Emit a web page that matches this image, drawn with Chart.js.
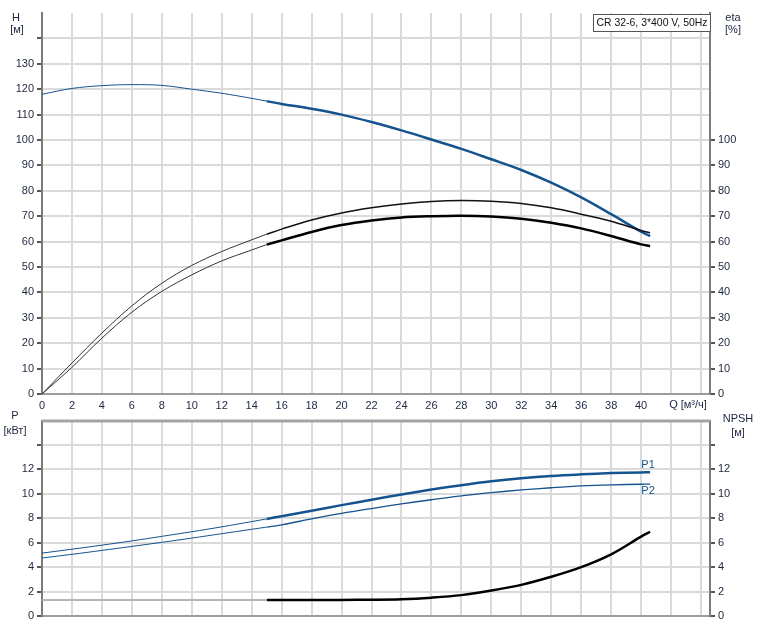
<!DOCTYPE html>
<html>
<head>
<meta charset="utf-8">
<script src="https://cdn.jsdelivr.net/npm/chart.js@4/dist/chart.umd.min.js"></script>
<style>
  html, body { margin: 0; padding: 0; background: #fff; }
  #wrap { position: relative; width: 759px; height: 627px; }
  canvas { position: absolute; left: 0; }
</style>
</head>
<body>
<div id="wrap">
  <canvas id="chartTop" width="759" height="412" style="top:0"></canvas>
  <canvas id="chartBottom" width="759" height="216" style="top:411px"></canvas>
</div>
<script>
// pump curve data
const flowQ = [0, 2, 4, 6, 8, 10, 12, 14, 15, 16, 18, 20, 22, 24, 26, 28, 30, 32, 34, 36, 38, 40, 40.6]
const headH = [118, 120.3, 121.4, 121.8, 121.5, 120, 118.4, 116.4, 115.3, 114.2, 112.3, 110, 107.1, 103.8, 100.2, 96.5, 92.4, 88.2, 83.2, 77.4, 70.8, 63.9, 62.2]
const etaPump = [0, 12.2, 24, 34.7, 43.6, 50.6, 56.1, 60.7, 62.9, 64.9, 68.5, 71.3, 73.3, 74.8, 75.8, 76.2, 75.9, 75, 73.3, 70.8, 68, 64.4, 63.5]
const etaTotal = [0, 10.5, 22, 32.2, 40.4, 46.9, 52.4, 56.7, 58.8, 60.5, 63.8, 66.5, 68.3, 69.5, 70, 70.2, 69.9, 69, 67.4, 65.2, 62.2, 58.9, 58.2]
const powerP1 = [5.15, 5.47, 5.8, 6.15, 6.52, 6.9, 7.3, 7.73, 7.95, 8.17, 8.62, 9.08, 9.52, 9.95, 10.35, 10.71, 11.03, 11.28, 11.47, 11.6, 11.7, 11.76, 11.77]
const powerP2 = [4.75, 5.05, 5.37, 5.7, 6.03, 6.38, 6.74, 7.1, 7.28, 7.47, 7.95, 8.4, 8.8, 9.18, 9.52, 9.84, 10.1, 10.32, 10.5, 10.65, 10.74, 10.79, 10.8]
const npsh = [1.32, 1.32, 1.32, 1.32, 1.32, 1.32, 1.32, 1.32, 1.32, 1.32, 1.32, 1.32, 1.33, 1.37, 1.5, 1.71, 2.08, 2.55, 3.21, 4.0, 5.05, 6.5, 6.9]
const xTicks = [0, 2, 4, 6, 8, 10, 12, 14, 16, 18, 20, 22, 24, 26, 28, 30, 32, 34, 36, 38, 40, 42, 44]
const hTicks = [0, 10, 20, 30, 40, 50, 60, 70, 80, 90, 100, 110, 120, 130, 140]
const etaTicks = [0, 10, 20, 30, 40, 50, 60, 70, 80, 90, 100]
const pTicks = [0, 2, 4, 6, 8, 10, 12, 14]
const opStart = 15

const BLUE = '#15538e'
const GRID = '#dadada'
const TXT = '#1e2640'
const FONT = { family: "'Liberation Sans', Arial, sans-serif", size: 11 }

function part(values, lo, hi) {
  return flowQ.map((q, i) => ({ x: q, y: values[i] })).filter(p => p.x >= lo && p.x <= hi)
}

function line(values, lo, hi, color, width, axis) {
  return {
    data: part(values, lo, hi),
    borderColor: color,
    borderWidth: width,
    pointRadius: 0,
    tension: 0.35,
    yAxisID: axis,
    fill: false
  }
}

function xAxis(showLabels, height) {
  return {
    type: 'linear',
    min: 0,
    max: 44.6,
    afterBuildTicks: a => { a.ticks = xTicks.map(v => ({ value: v })) },
    afterFit: a => { a.height = height },
    grid: { color: GRID, lineWidth: 2, drawTicks: false },
    border: { color: '#9c9c9c', width: 2 },
    ticks: {
      display: showLabels,
      color: TXT,
      font: FONT,
      padding: 5,
      maxRotation: 0,
      autoSkip: false,
      callback: v => (v > 40 ? '' : v)
    }
  }
}

function yAxis(pos, max, ticks, maxLabel, onArea) {
  return {
    position: pos,
    min: 0,
    max: max,
    afterBuildTicks: a => { a.ticks = ticks.map(v => ({ value: v })) },
    afterFit: a => { a.width = pos === 'left' ? 42 : 49 },
    grid: { color: GRID, lineWidth: 2, drawOnChartArea: onArea, tickLength: 5, tickColor: '#555' },
    border: { color: '#7c7c7c', width: 2 },
    ticks: {
      color: TXT,
      font: FONT,
      padding: 3,
      autoSkip: false,
      callback: v => (v > maxLabel ? '' : v)
    }
  }
}

function textPlugin(draw) {
  return {
    id: 'texts',
    afterDraw(chart) {
      const c = chart.ctx
      c.save()
      c.font = "11px 'Liberation Sans', Arial, sans-serif"
      c.fillStyle = TXT
      c.textBaseline = 'middle'
      c.textAlign = 'center'
      draw(chart, c)
      c.restore()
    }
  }
}

const baseOptions = {
  responsive: false,
  animation: false,
  plugins: { legend: { display: false }, tooltip: { enabled: false } }
}

// top chart: H and eta
new Chart(document.getElementById('chartTop'), {
  type: 'line',
  data: {
    datasets: [
      line(etaPump, 0, opStart, '#333', 1, 'yEta'),
      line(etaPump, opStart, 41, '#111', 1.5, 'yEta'),
      line(etaTotal, 0, opStart, '#333', 1, 'yEta'),
      line(etaTotal, opStart, 41, '#000', 2.5, 'yEta'),
      line(headH, 0, opStart, BLUE, 1, 'yH'),
      line(headH, opStart, 41, BLUE, 2.5, 'yH')
    ]
  },
  options: {
    ...baseOptions,
    layout: { padding: { top: 13 } },
    scales: {
      x: xAxis(true, 18),
      yH: yAxis('left', 150, hTicks, 130, true),
      yEta: yAxis('right', 150, etaTicks, 100, false)
    }
  },
  plugins: [textPlugin((chart, c) => {
    c.fillText('H', 16, 18)
    c.fillText('[м]', 17, 30)
    c.fillText('eta', 733, 18)
    c.fillText('[%]', 733, 30)
    c.fillText('Q [м³/ч]', 688, 405)
    // model box
    c.fillStyle = '#fff'
    c.fillRect(593, 14, 117, 17)
    c.strokeStyle = '#555'
    c.lineWidth = 1
    c.strokeRect(593.5, 14.5, 117, 17)
    c.fillStyle = '#111'
    c.fillText('CR 32-6, 3*400 V, 50Hz', 652, 23, 111)
  })]
})

// bottom chart: power and NPSH
new Chart(document.getElementById('chartBottom'), {
  type: 'line',
  data: {
    datasets: [
      line(npsh, 0, opStart, '#b4b4b4', 2, 'yN'),
      line(npsh, opStart, 41, '#000', 2.5, 'yN'),
      line(powerP2, 0, opStart, BLUE, 1, 'yP'),
      line(powerP2, opStart, 41, BLUE, 1.3, 'yP'),
      line(powerP1, 0, opStart, BLUE, 1, 'yP'),
      line(powerP1, opStart, 41, BLUE, 2.5, 'yP')
    ]
  },
  options: {
    ...baseOptions,
    layout: { padding: { top: 1 } },
    scales: {
      x: xAxis(false, 11),
      yP: yAxis('left', 16, pTicks, 12, true),
      yN: yAxis('right', 16, pTicks, 12, false)
    }
  },
  plugins: [textPlugin((chart, c) => {
    const a = chart.chartArea
    c.strokeStyle = '#a4a4a4'
    c.lineWidth = 3
    c.beginPath()
    c.moveTo(a.left, a.top + 0.5)
    c.lineTo(a.right, a.top + 0.5)
    c.stroke()
    c.fillText('P', 15, 5)
    c.fillText('[кВт]', 15, 20)
    c.fillText('NPSH', 738, 8)
    c.fillText('[м]', 738, 22)
    c.fillStyle = BLUE
    const p1 = chart.getDatasetMeta(5).data
    const p2 = chart.getDatasetMeta(3).data
    const e1 = p1[p1.length - 1]
    const e2 = p2[p2.length - 1]
    c.fillText('P1', e1.x - 2, e1.y - 7)
    c.fillText('P2', e2.x - 2, e2.y + 7)
  })]
})
</script>
</body>
</html>
